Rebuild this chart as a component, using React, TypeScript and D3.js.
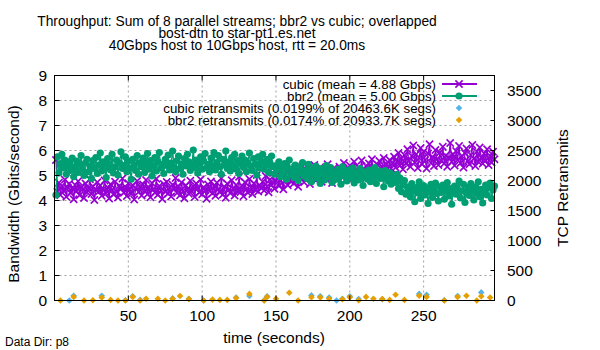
import * as d3 from 'd3'

// Throughput per second (Gbps), t = 1..298
const cubic = [
  5.62, 4.35, 4.71, 4.22, 4.58, 4.40, 4.83, 4.15, 4.52, 4.67,
  4.30, 4.48, 4.05, 4.62, 4.38, 4.77, 4.21, 4.55, 4.44, 4.10,
  4.68, 4.33, 4.49, 4.85, 4.26, 4.57, 4.02, 4.41, 4.73, 4.36,
  4.60, 4.19, 4.46, 4.80, 4.29, 4.53, 4.08, 4.65, 4.42, 4.24,
  4.75, 4.37, 4.12, 4.59, 4.47, 4.88, 4.31, 4.54, 4.18, 4.69,
  4.43, 4.27, 4.61, 4.04, 4.50, 4.78, 4.34, 4.56, 4.20, 4.64,
  4.39, 4.82, 4.25, 4.51, 4.13, 4.70, 4.45, 4.32, 4.87, 4.23,
  4.58, 4.40, 4.06, 4.66, 4.35, 4.74, 4.28, 4.52, 4.16, 4.63,
  4.47, 4.90, 4.30, 4.55, 4.21, 4.72, 4.38, 4.09, 4.60, 4.44,
  4.27, 4.79, 4.36, 4.57, 4.14, 4.68, 4.49, 4.32, 4.84, 4.25,
  4.53, 4.41, 4.07, 4.64, 4.37, 4.76, 4.29, 4.58, 4.19, 4.71,
  4.45, 4.33, 4.89, 4.24, 4.55, 4.11, 4.67, 4.42, 4.30, 4.81,
  4.48, 4.20, 4.62, 4.39, 4.95, 4.34, 4.59, 4.17, 4.73, 4.46,
  4.31, 4.86, 4.52, 4.26, 4.69, 4.43, 5.02, 4.36, 4.61, 4.50,
  4.75, 4.40, 4.98, 4.57, 4.33, 4.84, 4.62, 5.10, 4.47, 4.79,
  4.92, 4.58, 5.15, 4.70, 4.45, 5.05, 4.83, 4.61, 5.22, 4.76,
  4.95, 4.68, 5.30, 4.85, 4.55, 5.12, 4.90, 5.38, 4.73, 5.02,
  4.88, 5.25, 4.66, 5.08, 4.97, 5.42, 4.80, 5.14, 4.92, 5.33,
  4.75, 5.05, 5.20, 4.86, 5.45, 4.98, 5.10, 4.70, 5.28, 5.00,
  5.18, 4.84, 5.35, 5.06, 4.93, 5.50, 5.12, 4.88, 5.26, 5.40,
  5.03, 5.22, 5.55, 5.10, 4.95, 5.32, 5.16, 5.60, 5.08, 5.25,
  5.38, 5.02, 5.48, 5.20, 5.65, 5.12, 5.30, 5.05, 5.42, 5.58,
  5.15, 5.35, 5.70, 5.22, 5.45, 5.10, 5.62, 5.28, 5.50, 5.75,
  5.32, 5.55, 5.90, 5.40, 5.68, 5.25, 5.82, 5.48, 6.05, 5.58,
  5.35, 5.78, 6.20, 5.52, 5.85, 5.30, 5.70, 6.10, 5.45, 5.95,
  5.62, 5.28, 5.88, 6.25, 5.50, 5.75, 5.38, 6.02, 5.65, 5.42,
  5.92, 5.58, 6.15, 5.48, 5.80, 5.35, 5.72, 6.30, 5.55, 5.85,
  5.40, 5.98, 5.62, 6.18, 5.50, 5.78, 5.32, 5.90, 6.08, 5.58,
  5.45, 5.82, 6.22, 5.68, 5.38, 5.95, 5.55, 6.12, 5.72, 5.48,
  5.88, 5.60, 6.05, 5.42, 5.78, 5.52, 5.95, 5.65,
]

const bbr2 = [
  4.22, 5.75, 5.10, 5.48, 5.85, 5.30, 5.62, 5.05, 5.40, 5.55,
  5.20, 5.70, 4.95, 5.35, 5.58, 5.12, 5.45, 5.80, 5.25, 5.00,
  5.50, 5.65, 5.15, 5.38, 4.88, 5.60, 5.28, 5.72, 5.08, 5.42,
  5.90, 5.18, 5.55, 5.32, 4.92, 5.68, 5.45, 5.22, 5.85, 5.10,
  5.35, 5.62, 5.02, 5.50, 5.95, 5.28, 5.40, 5.75, 5.15, 5.58,
  5.30, 4.85, 5.65, 5.42, 5.20, 5.80, 5.05, 5.52, 5.35, 5.70,
  5.12, 5.48, 5.88, 5.25, 5.60, 4.98, 5.38, 5.72, 5.18, 5.55,
  5.92, 5.30, 5.45, 5.08, 5.65, 5.40, 5.82, 5.22, 5.50, 5.98,
  5.35, 5.15, 5.60, 5.78, 5.28, 5.45, 5.05, 5.68, 5.38, 5.85,
  5.55, 5.20, 5.42, 6.02, 5.32, 5.62, 5.10, 5.48, 5.75, 5.25,
  5.58, 5.88, 5.30, 5.45, 5.15, 5.70, 5.38, 5.92, 5.22, 5.52,
  5.80, 5.35, 5.05, 5.65, 5.42, 5.98, 5.28, 5.55, 5.18, 5.72,
  5.40, 5.85, 5.25, 5.60, 5.08, 5.48, 5.78, 5.32, 5.62, 5.15,
  5.50, 5.90, 5.38, 5.20, 5.68, 5.45, 5.02, 5.75, 5.30, 5.55,
  5.85, 5.25, 5.42, 5.65, 5.12, 5.50, 5.78, 5.35, 5.05, 5.40,
  5.22, 5.55, 4.95, 5.38, 5.10, 5.48, 4.85, 5.30, 5.62, 5.05,
  5.25, 4.92, 5.42, 5.15, 4.80, 5.35, 5.08, 5.52, 4.98, 5.20,
  4.88, 5.45, 5.12, 4.75, 5.30, 5.02, 5.38, 4.90, 5.18, 4.68,
  5.28, 5.05, 4.82, 5.40, 5.10, 4.95, 5.32, 4.72, 5.15, 5.00,
  4.85, 5.25, 5.08, 4.65, 5.35, 4.98, 5.18, 4.78, 5.22, 5.05,
  4.90, 5.30, 4.70, 5.12, 5.02, 4.82, 5.28, 4.95, 4.60, 5.15,
  5.05, 4.85, 5.22, 4.75, 5.10, 4.92, 5.32, 4.68, 5.00, 5.18,
  4.88, 5.08, 4.55, 5.20, 4.95, 4.78, 5.12, 4.65, 5.02, 4.85,
  4.72, 5.05, 4.48, 4.90, 4.35, 4.62, 4.80, 4.25, 4.55, 4.42,
  4.15, 4.68, 4.38, 3.95, 4.52, 4.30, 4.75, 4.08, 4.45, 4.60,
  4.22, 4.50, 3.88, 4.35, 4.65, 4.12, 4.42, 4.70, 4.28, 3.98,
  4.55, 4.32, 4.62, 4.05, 4.40, 4.72, 4.18, 4.48, 3.85, 4.35,
  4.58, 4.25, 4.45, 4.78, 4.10, 4.38, 4.65, 3.92, 4.30, 4.52,
  4.20, 4.68, 4.40, 4.02, 4.55, 4.28, 4.75, 4.15, 4.45, 3.90,
  4.35, 4.62, 4.22, 4.50, 4.70, 4.08, 4.42, 4.58,
]

// Retransmits: [time, segments]
const cubicRetrans: [number, number][] = [
  [10, 0], [13, 80], [32, 80], [48, 5], [53, 70], [58, 10], [80, 35], [91, 30],
  [101, 0], [123, 50], [132, 75], [142, 5], [144, 70], [174, 85], [180, 70],
  [186, 50], [191, 0], [195, 30], [200, 70], [206, 25], [222, 20], [247, 110],
  [252, 95], [264, 5], [273, 75], [289, 135],
]
const bbr2Retrans: [number, number][] = [
  [4, 0], [13, 60], [20, 0], [26, 5], [32, 50], [38, 10], [43, 0], [48, 0],
  [53, 60], [58, 0], [62, 30], [70, 30], [75, 0], [80, 30], [85, 75], [91, 25],
  [101, 0], [107, 15], [112, 10], [117, 10], [123, 40], [132, 110], [142, 0],
  [144, 60], [150, 30], [159, 130], [165, 0], [174, 55], [180, 50], [186, 30],
  [195, 20], [200, 55], [206, 5], [211, 60], [216, 30], [222, 25], [227, 10],
  [231, 95], [237, 10], [247, 80], [252, 60], [264, 0], [273, 60], [279, 80],
  [286, 0], [289, 70], [295, 50],
]

const titleLines = [
  'Throughput: Sum of 8 parallel streams; bbr2 vs cubic; overlapped',
  'bost-dtn to star-pt1.es.net',
  '40Gbps host to 10Gbps host, rtt = 20.0ms',
]
const legendLabels = [
  'cubic (mean = 4.88 Gbps)',
  'bbr2 (mean = 5.00 Gbps)',
  'cubic retransmits (0.0199% of 20463.6K segs)',
  'bbr2 retransmits (0.0174% of 20933.7K segs)',
]
const xTicks = [50, 100, 150, 200, 250]
const yTicks = [0, 1, 2, 3, 4, 5, 6, 7, 8, 9]
const y2Ticks = [0, 500, 1000, 1500, 2000, 2500, 3000, 3500]

const PURPLE = '#9400d3'
const GREEN = '#009e73'
const BLUE = '#56b4e9'
const ORANGE = '#e69f00'
const FONT = '"Liberation Sans", Arial, sans-serif'

const left = 54.5, right = 494.5, top = 75.5, bottom = 300.5

const x = d3.scaleLinear().domain([0, 298]).range([left, right])
const y = d3.scaleLinear().domain([0, 9]).range([bottom, top])
const y2 = d3.scaleLinear().domain([0, 3750]).range([bottom, top])

const Cross = ({ cx, cy, c }: { cx: number; cy: number; c: string }) => (
  <path d={`M${cx - 3.6},${cy - 3.6}L${cx + 3.6},${cy + 3.6}M${cx - 3.6},${cy + 3.6}L${cx + 3.6},${cy - 3.6}`} stroke={c} strokeWidth={1.6} />
)
const Diamond = ({ cx, cy, c }: { cx: number; cy: number; c: string }) => (
  <path d={`M${cx},${cy - 3.3}L${cx + 3.3},${cy}L${cx},${cy + 3.3}L${cx - 3.3},${cy}Z`} fill={c} />
)

export default function App() {
  const line = d3.line<number>().x((_, i) => x(i + 1)).y((d) => y(d))

  return (
    <svg width={600} height={350} style={{ position: 'absolute', left: 0, top: 0, background: '#fff' }} fontFamily={FONT}>
      {/* grid */}
      {yTicks.slice(1, -1).map((t) => (
        <line key={'gy' + t} x1={left} x2={right} y1={y(t)} y2={y(t)} stroke="#a0a0a0" strokeDasharray="2,3" />
      ))}
      {xTicks.map((t) => (
        <line key={'gx' + t} x1={x(t)} x2={x(t)} y1={top} y2={bottom} stroke="#a0a0a0" strokeDasharray="2,3" />
      ))}

      {/* title */}
      {titleLines.map((s, i) => (
        <text key={s} x={237} y={26 + i * 12} textAnchor="middle" fontSize={13.8}>{s}</text>
      ))}

      {/* throughput */}
      <path d={line(cubic) || ''} fill="none" stroke={PURPLE} strokeWidth={1.3} />
      {cubic.map((d, i) => <Cross key={'c' + i} cx={x(i + 1)} cy={y(d)} c={PURPLE} />)}
      <path d={line(bbr2) || ''} fill="none" stroke={GREEN} strokeWidth={1.3} />
      {bbr2.map((d, i) => <circle key={'b' + i} cx={x(i + 1)} cy={y(d)} r={3.6} fill={GREEN} />)}

      {/* retransmits */}
      {cubicRetrans.map(([t, v]) => <Diamond key={'cr' + t} cx={x(t)} cy={y2(v)} c={BLUE} />)}
      {bbr2Retrans.map(([t, v]) => <Diamond key={'br' + t} cx={x(t)} cy={y2(v)} c={ORANGE} />)}

      {/* axes frame */}
      <rect x={left} y={top} width={right - left} height={bottom - top} fill="none" stroke="#000" />
      {xTicks.map((t) => (
        <g key={'xt' + t}>
          <line x1={x(t)} x2={x(t)} y1={bottom} y2={bottom - 5} stroke="#000" />
          <line x1={x(t)} x2={x(t)} y1={top} y2={top + 5} stroke="#000" />
          <text x={x(t)} y={321} textAnchor="middle" fontSize={15.5}>{t}</text>
        </g>
      ))}
      {yTicks.map((t) => (
        <g key={'yt' + t}>
          <line x1={left} x2={left + 5} y1={y(t)} y2={y(t)} stroke="#000" />
          <text x={47} y={y(t) + 5.5} textAnchor="end" fontSize={15.5}>{t}</text>
        </g>
      ))}
      {y2Ticks.map((t) => (
        <g key={'y2t' + t}>
          <line x1={right} x2={right - 4} y1={y2(t)} y2={y2(t)} stroke="#000" />
          <text x={507} y={y2(t) + 5.5} fontSize={15.5}>{t}</text>
        </g>
      ))}

      {/* axis labels */}
      <text transform="translate(18.5,194) rotate(-90)" textAnchor="middle" fontSize={15.5}>Bandwidth (Gbits/second)</text>
      <text transform="translate(567.5,188) rotate(-90)" textAnchor="middle" fontSize={15.5}>TCP Retransmits</text>
      <text x={274} y={342.5} textAnchor="middle" fontSize={15.5}>time (seconds)</text>
      <text x={5} y={345.5} fontSize={12}>Data Dir: p8</text>

      {/* legend */}
      {legendLabels.map((s, i) => (
        <text key={s} x={436} y={84 + i * 12 + 4.5} textAnchor="end" fontSize={13.3}>{s}</text>
      ))}
      <line x1={442} x2={477} y1={84} y2={84} stroke={PURPLE} strokeWidth={2} />
      <Cross cx={459} cy={84} c={PURPLE} />
      <line x1={442} x2={477} y1={96} y2={96} stroke={GREEN} strokeWidth={2} />
      <circle cx={459} cy={96} r={3.6} fill={GREEN} />
      <Diamond cx={459} cy={108} c={BLUE} />
      <Diamond cx={459} cy={120} c={ORANGE} />
    </svg>
  )
}
